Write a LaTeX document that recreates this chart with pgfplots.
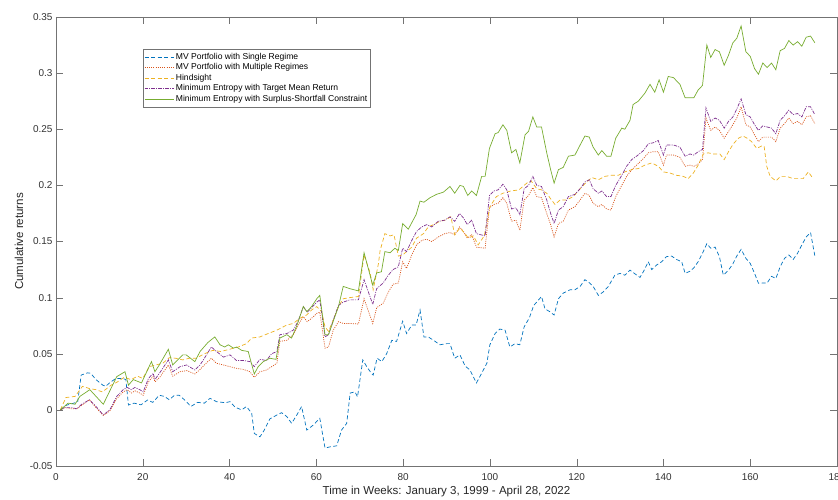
\documentclass[border=0pt]{standalone}
\usepackage{fontspec}
\setmainfont{Liberation Sans}
\usepackage{pgfplots}
\pgfplotsset{compat=1.18}
\definecolor{mblue}{rgb}{0,0.447,0.741}
\definecolor{morange}{rgb}{0.85,0.325,0.098}
\definecolor{myellow}{rgb}{0.929,0.694,0.125}
\definecolor{mpurple}{rgb}{0.494,0.184,0.556}
\definecolor{mgreen}{rgb}{0.466,0.674,0.188}
\definecolor{axgray}{gray}{0.45}
\begin{document}
\begin{tikzpicture}
\begin{axis}[
  scale only axis,
  width=781bp, height=449bp,
  xmin=0, xmax=180, ymin=-0.05, ymax=0.35,
  xtick={0,20,...,180},
  ytick={-0.05,0,0.05,0.1,0.15,0.2,0.25,0.3,0.35},
  yticklabels={-0.05,0,0.05,0.1,0.15,0.2,0.25,0.3,0.35},
  xticklabels={0,20,40,60,80,100,120,140,160,180},
  tick align=inside,
  major tick length=7bp,
  axis line style={axgray},
  tick style={axgray},
  ticklabel style={font=\fontsize{10}{12}\selectfont, text=black!80},
  xticklabel style={yshift=-4bp},
  xlabel={Time in Weeks: January 3, 1999 - April 28, 2022},
  ylabel={Cumulative returns},
  label style={font=\fontsize{11.6}{13}\selectfont, text=black!85},
  xlabel style={at={(axis description cs:0.5,-0.0579)}, anchor=center},
  ylabel style={at={(axis description cs:-0.0474,0.5)}, anchor=center},
  legend style={at={(axis description cs:0.1114,0.9287)}, anchor=north west,
    draw=axgray, font=\fontsize{8.6}{10}\selectfont, row sep=-1.2bp,
    inner xsep=1bp, inner ysep=2bp},
  legend cell align=left,
  legend image code/.code={\draw[#1] (0bp,0bp) -- (29bp,0bp);},
  every axis plot/.append style={line width=0.7bp},
]
\addplot[mblue, dash pattern=on 4bp off 2.5bp] coordinates {
(1,0) (2.3,0.004) (5,0.007) (5.8,0.031) (7.3,0.033) (8,0.0326) (9.2,0.027) (10.8,0.022) (11.5,0.021) (12.3,0.024) (13.8,0.028) (15.4,0.028) (16.1,0.027) (16.7,0.0043) (18,0.006) (19.6,0.0045) (21.1,0.0088) (22.3,0.0067) (23.8,0.013) (25,0.012) (26.1,0.009) (27.3,0.013) (28.4,0.013) (29.6,0.009) (31.1,0.003) (32.6,0.0067) (34.2,0.006) (35.5,0.0103) (37,0.0073) (39,0.0064) (40.1,0.0073) (41.3,0.0023) (42.8,0) (43.9,0.003) (45.1,-0.003) (45.7,-0.021) (47,-0.024) (48,-0.018) (49.3,-0.008) (50.9,-0.0046) (52,-0.0025) (53.2,-0.006) (54.3,-0.012) (55.5,-0.0046) (56.6,0.003) (57.8,-0.018) (59.3,-0.0135) (60.8,-0.0075) (62,-0.034) (63.1,-0.033) (64.7,-0.032) (65.8,-0.018) (67,-0.012) (67.8,0.015) (68.9,0.016) (69.5,0.0116) (70.7,0.0445) (71.6,0.0386) (72.7,0.0325) (73.1,0.031) (74,0.046) (75.1,0.043) (76.2,0.050) (77.4,0.062) (78.5,0.061) (79.9,0.079) (80.8,0.068) (82,0.0756) (83,0.0756) (83.9,0.089) (84.8,0.065) (85.8,0.065) (87,0.062) (88.5,0.058) (90,0.059) (90.8,0.059) (91.9,0.046) (93.1,0.049) (94.3,0.039) (95.4,0.0356) (96.9,0.024) (98.1,0.0326) (99.3,0.0415) (100,0.058) (101.2,0.068) (102.3,0.072) (103.5,0.071) (104.6,0.056) (105.8,0.059) (106.9,0.058) (107.9,0.074) (109.1,0.082) (110.1,0.093) (111.9,0.101) (112.7,0.090) (113.8,0.0875) (114.8,0.0845) (115.8,0.099) (116.9,0.104) (118.5,0.107) (119.6,0.107) (120.8,0.110) (121.9,0.116) (123,0.113) (123.8,0.110) (125,0.102) (126.1,0.105) (127.3,0.110) (128.8,0.120) (130,0.1216) (131.1,0.120) (132.3,0.1245) (133.5,0.121) (134.6,0.118) (135.5,0.124) (136.5,0.132) (137.3,0.125) (138.4,0.129) (139.6,0.132) (140.7,0.1365) (141.9,0.137) (143,0.134) (144.2,0.132) (145,0.1216) (146.1,0.1235) (147,0.1265) (148,0.132) (149,0.1395) (150,0.148) (150.9,0.144) (151.9,0.145) (152.9,0.1365) (153.8,0.120) (155,0.1245) (156,0.130) (156.9,0.137) (157.9,0.143) (159,0.135) (160,0.1305) (161,0.1216) (161.9,0.1127) (162.9,0.113) (163.9,0.113) (164.9,0.119) (165.9,0.117) (166.9,0.1275) (167.9,0.135) (168.9,0.138) (169.9,0.134) (170.9,0.1395) (171.9,0.147) (172.9,0.154) (173.9,0.158) (174.9,0.137)
};
\addlegendentry{MV Portfolio with Single Regime}
\addplot[morange, dash pattern=on 1bp off 1.2bp] coordinates {
(1,0) (2.1,0.002) (3.6,0.001) (4.8,0.001) (5.9,0.004) (7.7,0.009) (9,0.003) (10.9,-0.005) (12.4,-0.001) (14,0.010) (15.5,0.016) (16.4,0.018) (17.4,0.015) (18.2,0.017) (19.3,0.015) (20.1,0.013) (21.3,0.025) (22.4,0.030) (22.8,0.025) (23.9,0.029) (25.9,0.040) (26.9,0.030) (28.6,0.034) (30.1,0.035) (32,0.032) (33.2,0.036) (34.2,0.040) (35.8,0.046) (37,0.0415) (38.6,0.040) (40.1,0.0385) (41.6,0.037) (43.2,0.036) (44.7,0.034) (45.7,0.029) (47,0.034) (48.5,0.0355) (49.7,0.0385) (50.9,0.0415) (51.6,0.061) (53.2,0.062) (54.7,0.067) (55.8,0.0756) (57,0.083) (57.9,0.0786) (58.9,0.0815) (60.1,0.086) (60.8,0.087) (62,0.055) (62.8,0.056) (63.9,0.071) (65.1,0.0786) (66.2,0.077) (67.7,0.077) (69.7,0.0765) (71,0.099) (73,0.077) (73.9,0.091) (75.4,0.095) (76.6,0.105) (77.7,0.112) (78.9,0.113) (79.9,0.132) (80.8,0.126) (82,0.138) (83.1,0.147) (84.3,0.151) (85.4,0.152) (86.6,0.150) (88.1,0.154) (89.6,0.157) (90.8,0.158) (91.9,0.156) (93,0.163) (93.9,0.159) (94.8,0.153) (95.8,0.156) (96.9,0.145) (98.9,0.144) (99.9,0.180) (100.9,0.183) (101.9,0.184) (103,0.189) (103.9,0.184) (105,0.168) (106,0.169) (106.9,0.160) (107.9,0.187) (108.9,0.191) (109.9,0.198) (110.8,0.190) (111.9,0.189) (113.1,0.175) (114,0.165) (114.8,0.154) (115.8,0.166) (116.9,0.168) (118.1,0.178) (119.6,0.181) (120.8,0.187) (121.9,0.193) (122.9,0.191) (123.8,0.184) (125,0.181) (125.8,0.183) (126.9,0.179) (127.9,0.178) (129,0.190) (130.4,0.200) (131.5,0.208) (132.7,0.214) (133.8,0.218) (135.4,0.224) (136.5,0.229) (137.7,0.230) (138.8,0.230) (140,0.218) (140.7,0.227) (142.3,0.227) (143.8,0.225) (145,0.217) (146.1,0.218) (147,0.217) (148,0.219) (149,0.223) (149.8,0.260) (150.9,0.249) (151.9,0.252) (152.9,0.249) (154,0.242) (155,0.248) (156,0.254) (156.9,0.260) (157.9,0.270) (159,0.254) (160,0.252) (161,0.245) (161.9,0.239) (162.9,0.243) (163.9,0.243) (164.9,0.243) (165.9,0.239) (166.9,0.251) (167.9,0.255) (168.9,0.260) (169.9,0.255) (170.9,0.257) (171.9,0.254) (172.9,0.261) (173.9,0.262) (174.9,0.255)
};
\addlegendentry{MV Portfolio with Multiple Regimes}
\addplot[myellow, dash pattern=on 4bp off 2.5bp] coordinates {
(1,0) (2.3,0.011) (4.4,0.012) (6.1,0.021) (7.7,0.019) (9.2,0.018) (10.7,0.016) (12.7,0.022) (14.2,0.025) (15.7,0.029) (17.3,0.027) (18.8,0.030) (20,0.028) (21.5,0.0385) (23,0.040) (24.6,0.0415) (26.1,0.0465) (27.6,0.046) (29.2,0.0445) (30.7,0.046) (32.3,0.046) (34.2,0.050) (36.1,0.053) (38,0.052) (40,0.054) (42,0.056) (43.9,0.059) (45.1,0.064) (47,0.065) (48.9,0.068) (50.9,0.071) (53.2,0.0756) (54.7,0.077) (56.2,0.0816) (57.8,0.0846) (58.9,0.089) (60.1,0.092) (61.2,0.0875) (62,0.074) (62.8,0.070) (63.9,0.080) (65.1,0.092) (66.2,0.099) (67.7,0.100) (69.7,0.101) (71,0.138) (72.4,0.122) (73.1,0.107) (74.3,0.130) (74.7,0.142) (75.8,0.157) (77,0.155) (77.9,0.156) (78.9,0.137) (79.9,0.138) (80.8,0.141) (82,0.145) (83.1,0.153) (84.7,0.157) (85.8,0.163) (87,0.165) (88.5,0.168) (89.6,0.169) (91,0.172) (91.9,0.156) (93.1,0.162) (94.3,0.157) (95,0.153) (96.2,0.155) (97.3,0.147) (98.7,0.155) (100,0.181) (101.5,0.190) (103,0.193) (104.8,0.195) (106.7,0.196) (108.5,0.202) (109.5,0.204) (110.8,0.197) (111.9,0.196) (113.1,0.193) (114,0.188) (115,0.183) (116.2,0.187) (117.7,0.187) (119.2,0.190) (120.8,0.197) (122.3,0.203) (123.5,0.207) (125,0.205) (126.5,0.208) (128,0.209) (129.6,0.209) (131.1,0.212) (132.7,0.214) (134.2,0.215) (135.7,0.218) (137.3,0.220) (138.8,0.217) (140,0.212) (141.5,0.211) (143,0.209) (144.6,0.208) (145.7,0.206) (146.9,0.211) (148,0.218) (149.2,0.228) (150.3,0.229) (151.5,0.228) (153,0.228) (154,0.223) (155,0.230) (156.1,0.237) (157.3,0.242) (158.3,0.244) (159.3,0.242) (160.3,0.239) (161.5,0.233) (162.6,0.235) (163.2,0.235) (163.8,0.217) (164.6,0.208) (165.9,0.204) (167,0.208) (168.4,0.208) (169.9,0.206) (171.1,0.206) (172.2,0.206) (173.4,0.212) (174.5,0.206)
};
\addlegendentry{Hindsight}
\addplot[mpurple, dash pattern=on 3.5bp off 1.2bp on 1bp off 1.2bp] coordinates {
(1,0) (2.1,0.002) (3.6,0.002) (4.8,0.001) (5.9,0.005) (7.7,0.009) (9,0.004) (10.9,-0.0045) (12.4,0) (14,0.012) (15.5,0.018) (16.4,0.020) (17.4,0.018) (18.2,0.020) (19.3,0.018) (20.1,0.016) (21.3,0.028) (22.4,0.0326) (22.8,0.027) (23.9,0.033) (25.9,0.0445) (26.9,0.034) (28.6,0.0385) (30.1,0.040) (32,0.0355) (33.2,0.040) (34.2,0.046) (35.8,0.056) (37,0.052) (38.6,0.047) (40.1,0.049) (41.6,0.044) (43.2,0.044) (44.7,0.043) (45.7,0.0385) (47,0.045) (48.5,0.044) (49.7,0.050) (50.9,0.052) (51.6,0.067) (53.2,0.068) (54.7,0.071) (55.8,0.079) (57,0.092) (57.9,0.087) (58.9,0.091) (60.1,0.096) (60.8,0.098) (62,0.065) (62.8,0.067) (63.9,0.080) (65.1,0.093) (66.2,0.096) (67.7,0.098) (69.7,0.098) (71,0.116) (73,0.094) (73.9,0.108) (75.4,0.113) (76.6,0.120) (77.7,0.125) (78.9,0.1275) (79.9,0.144) (80.8,0.141) (82,0.151) (83.1,0.159) (84.3,0.163) (85.4,0.165) (86.6,0.163) (88.1,0.168) (89.6,0.169) (90.8,0.172) (91.9,0.168) (93,0.175) (93.9,0.171) (94.8,0.165) (95.8,0.169) (96.9,0.157) (98.9,0.155) (99.9,0.191) (100.9,0.195) (101.9,0.196) (103,0.201) (103.9,0.196) (105,0.179) (106,0.180) (106.9,0.174) (107.9,0.197) (108.9,0.200) (109.9,0.208) (110.8,0.200) (111.9,0.199) (113.1,0.187) (114,0.175) (114.8,0.166) (115.8,0.178) (116.9,0.181) (118.1,0.190) (119.6,0.192) (120.8,0.197) (121.9,0.203) (122.9,0.205) (123.8,0.197) (125,0.193) (125.8,0.195) (126.9,0.190) (127.9,0.190) (129,0.200) (130.4,0.209) (131.5,0.217) (132.7,0.223) (133.8,0.226) (135.4,0.231) (136.5,0.237) (137.7,0.238) (138.8,0.240) (140,0.227) (140.7,0.236) (142.3,0.236) (143.8,0.234) (145,0.226) (146.1,0.228) (147,0.227) (148,0.230) (149,0.232) (149.8,0.269) (150.9,0.257) (151.9,0.260) (152.9,0.258) (154,0.251) (155,0.257) (156,0.261) (156.9,0.268) (157.9,0.277) (159,0.263) (160,0.261) (161,0.254) (161.9,0.249) (162.9,0.253) (163.9,0.252) (164.9,0.251) (165.9,0.246) (166.9,0.258) (167.9,0.262) (168.9,0.267) (169.9,0.263) (170.9,0.264) (171.9,0.261) (172.9,0.270) (173.9,0.270) (174.9,0.263)
};
\addlegendentry{Minimum Entropy with Target Mean Return}
\addplot[mgreen, solid] coordinates {
(1,0) (2.8,0.006) (4.4,0.005) (5.5,0.012) (7.8,0.018) (10.9,0.005) (14,0.0296) (15.9,0.034) (16.7,0.022) (17.8,0.027) (19.7,0.024) (22,0.043) (22.8,0.034) (23.8,0.040) (25.9,0.054) (26.9,0.040) (29.2,0.049) (30,0.049) (32,0.043) (33.2,0.052) (35,0.060) (36.6,0.065) (37.8,0.058) (38.9,0.056) (39.7,0.058) (40.9,0.055) (41.6,0.056) (42.8,0.053) (44.3,0.052) (45.7,0.032) (46.6,0.0385) (47.8,0.043) (49.3,0.046) (50.7,0.045) (51.6,0.064) (53.2,0.067) (54.3,0.064) (55.5,0.075) (57,0.092) (57.8,0.0875) (58.9,0.092) (60.1,0.099) (60.8,0.102) (62,0.067) (62.8,0.067) (63.9,0.079) (65.1,0.092) (66.2,0.110) (67.7,0.108) (69.7,0.106) (71,0.140) (73,0.111) (73.9,0.122) (75,0.123) (75.8,0.141) (77,0.140) (78.1,0.144) (78.9,0.142) (79.9,0.166) (81.2,0.161) (83,0.174) (83.9,0.186) (84.8,0.185) (86.2,0.189) (87.7,0.192) (89.3,0.194) (90.8,0.199) (91.9,0.193) (93.1,0.200) (93.9,0.199) (94.9,0.191) (95.8,0.195) (96.9,0.191) (98.1,0.208) (98.9,0.208) (99.9,0.233) (101.2,0.246) (101.9,0.247) (103,0.254) (103.9,0.249) (105,0.229) (106,0.232) (106.9,0.220) (108.1,0.245) (108.9,0.248) (109.9,0.261) (110.8,0.252) (111.9,0.252) (113.1,0.229) (114,0.214) (114.8,0.202) (115.8,0.214) (116.9,0.216) (118.1,0.226) (119.6,0.227) (120.8,0.236) (121.9,0.244) (122.9,0.243) (123.8,0.234) (125,0.227) (125.8,0.231) (126.9,0.226) (127.9,0.226) (129,0.242) (130.4,0.251) (131.1,0.250) (132.3,0.258) (133,0.272) (134.2,0.275) (135.7,0.282) (136.9,0.290) (138,0.283) (139,0.294) (140,0.283) (141.1,0.297) (142.3,0.296) (143.8,0.290) (145,0.278) (146.1,0.278) (147,0.278) (148,0.285) (149,0.289) (150,0.325) (150.9,0.314) (151.9,0.321) (152.9,0.319) (154,0.307) (155,0.316) (156,0.327) (156.9,0.331) (157.9,0.342) (159,0.319) (160,0.315) (161,0.304) (161.9,0.299) (162.9,0.309) (163.9,0.305) (164.9,0.309) (165.9,0.303) (166.9,0.320) (167.9,0.322) (168.9,0.329) (169.9,0.325) (170.9,0.328) (171.9,0.324) (172.9,0.332) (173.9,0.333) (174.9,0.327)
};
\addlegendentry{Minimum Entropy with Surplus-Shortfall Constraint}
\end{axis}
\pgfresetboundingbox
\path[use as bounding box] (-56bp,-34bp) rectangle (782bp,466bp);
\end{tikzpicture}
\end{document}
